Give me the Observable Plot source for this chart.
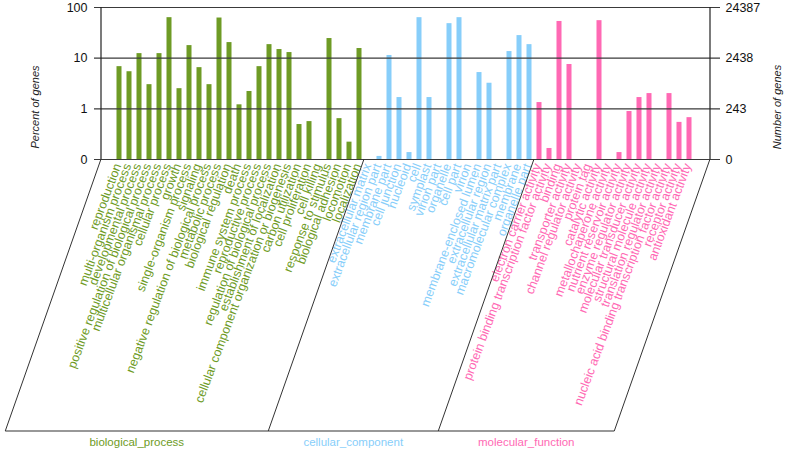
<!DOCTYPE html>
<html>
<head>
<meta charset="utf-8">
<script src="https://cdn.jsdelivr.net/npm/d3@7"></script>
<script src="https://cdn.jsdelivr.net/npm/@observablehq/plot@0.6"></script>
<style>
html, body { margin: 0; padding: 0; background: #fff; overflow: hidden; }
</style>
</head>
<body>
<div id="chart"></div>
<script>
// ---------- data ----------
const groups = ["biological_process", "cellular_component", "molecular_function"];
const groupColors = ["#6E9B25", "#87CEFA", "#FF69B4"];

const bpTerms = [
  "reproduction", "multi-organism process", "developmental process",
  "positive regulation of biological process", "multicellular organismal process",
  "cellular process", "growth", "single-organism process", "signaling",
  "negative regulation of biological process", "metabolic process",
  "biological regulation", "death", "immune system process", "reproductive process",
  "regulation of biological process", "establishment of localization",
  "cellular component organization or biogenesis", "carbon utilization",
  "cell proliferation", "cell killing", "response to stimulus",
  "biological adhesion", "locomotion", "localization"
];
const bpValues = [6.8, 5.4, 12.3, 3.0, 12.3, 63, 2.5, 17.7, 6.5, 3.0, 62, 20.3, 1.2, 2.2, 6.8, 18.5, 14.8, 12.9, 0.49, 0.56, 0, 24.4, 0.64, 0.22, 15.5];

const ccTerms = [
  "extracellular matrix", "extracellular region part", "membrane part", "cell junction",
  "nucleoid", "cell", "symplast", "virion part", "organelle", "cell part", "virion",
  "membrane-enclosed lumen", "extracellular region", "extracellular matrix part",
  "macromolecular complex", "membrane", "organelle part"
];
const ccValues = [0, 0.115, 11.3, 1.67, 0.137, 63, 1.67, 0, 48, 63, 0, 5.2, 3.2, 0, 13.5, 27.9, 18.5];

const mfTerms = [
  "electron carrier activity", "protein binding transcription factor activity", "binding",
  "transporter activity", "channel regulator activity", "protein tag", "catalytic activity",
  "metallochaperone activity", "nutrient reservoir activity", "enzyme regulator activity",
  "molecular transducer activity", "structural molecule activity",
  "translation regulator activity", "nucleic acid binding transcription factor activity",
  "receptor activity", "antioxidant activity"
];
const mfValues = [1.33, 0.165, 53, 7.5, 0, 0, 55, 0, 0.137, 0.885, 1.67, 2.0, 0, 2.0, 0.54, 0.67];

const yTicks = [0.1, 1, 10, 100];
const leftTickLabels = ["0", "1", "10", "100"];
const rightTickLabels = ["0", "243", "2438", "24387"];
const leftTitle = "Percent of genes";
const rightTitle = "Number of genes";

// ---------- table ----------
const rows = [];
[[bpTerms, bpValues, groups[0]], [ccTerms, ccValues, groups[1]], [mfTerms, mfValues, groups[2]]]
  .forEach(([t, v, g]) => t.forEach((term, i) => rows.push({term, value: v[i], group: g})));
const terms = rows.map(d => d.term);

// ---------- decorations drawn from the plot's own scales/dimensions ----------
function decor(index, scales, values, dims) {
  const {width, height, marginLeft, marginRight, marginTop, marginBottom} = dims;
  const xl = marginLeft, xr = width - marginRight, yt = marginTop, yb = height - marginBottom;
  const yFloor = height - 24;
  const slant = (yFloor - yb) * 0.352;
  const tops = [xl, scales.x(ccTerms[0]), scales.x(mfTerms[0]), xr];
  const g = d3.create("svg:g");
  g.selectAll("line.ax").data([xl, xr]).join("line").attr("class", "ax")
    .attr("x1", d => d).attr("x2", d => d).attr("y1", yt).attr("y2", yb)
    .attr("stroke", "#222").attr("stroke-width", 1.2);
  g.selectAll("line.sl").data(tops).join("line").attr("class", "sl")
    .attr("x1", d => d).attr("y1", yb).attr("x2", d => d - slant).attr("y2", yFloor)
    .attr("stroke", "#333").attr("stroke-width", 1);
  g.append("line").attr("x1", tops[0] - slant).attr("x2", tops[3] - slant)
    .attr("y1", yFloor).attr("y2", yFloor).attr("stroke", "#333").attr("stroke-width", 1.2);
  g.selectAll("text.grp").data(groups).join("text").attr("class", "grp")
    .attr("x", (d, i) => (tops[i] + tops[i + 1]) / 2 - slant)
    .attr("y", yFloor + 11).attr("dy", "0.35em")
    .attr("text-anchor", "middle").attr("font-size", 11.5)
    .attr("fill", (d, i) => groupColors[i]).text(d => d);
  const yMid = (yt + yb) / 2 + 24;
  g.append("text").attr("transform", `translate(${xl - 66},${yMid}) rotate(-90)`)
    .attr("text-anchor", "middle").attr("dy", "0.35em").attr("font-size", 11)
    .attr("font-style", "italic").attr("fill", "#222").text(leftTitle);
  g.append("text").attr("transform", `translate(${xr + 67},${yMid}) rotate(-90)`)
    .attr("text-anchor", "middle").attr("dy", "0.35em").attr("font-size", 11)
    .attr("font-style", "italic").attr("fill", "#222").text(rightTitle);
  return g.node();
}

const chart = Plot.plot({
  width: 787,
  height: 455,
  marginLeft: 101,
  marginRight: 77,
  marginTop: 7,
  marginBottom: 296,
  style: {fontFamily: "'Liberation Sans', Arial, sans-serif", fontSize: "12px", background: "#fff"},
  x: {type: "band", domain: terms, padding: 0, insetLeft: 2.3, insetRight: 6.3, axis: null},
  y: {type: "log", domain: [0.1, 100], axis: null},
  color: {domain: groups, range: groupColors},
  marks: [
    Plot.barY(rows.filter(d => d.value > 0), {
      x: "term", y1: 0.1, y2: "value", fill: "group", insetLeft: 2.5, insetRight: 2.5
    }),
    Plot.ruleY(yTicks, {stroke: "#3a3a3a", strokeWidth: 1.1, insetLeft: -7, insetRight: -10}),
    Plot.text(yTicks, {
      y: d => d, text: (d, i) => leftTickLabels[i], frameAnchor: "left",
      dx: -14, textAnchor: "end", fill: "#111", fontSize: 12.5
    }),
    Plot.text(yTicks, {
      y: d => d, text: (d, i) => rightTickLabels[i], frameAnchor: "right",
      dx: 15, textAnchor: "start", fill: "#111", fontSize: 12.5
    }),
    Plot.text(rows, {
      x: "term", text: "term", frameAnchor: "bottom", fill: "group",
      rotate: -69.5, textAnchor: "end", dy: 6, dx: 2, fontSize: 12.5
    }),
    decor
  ]
});
document.getElementById("chart").appendChild(chart);
</script>
</body>
</html>
